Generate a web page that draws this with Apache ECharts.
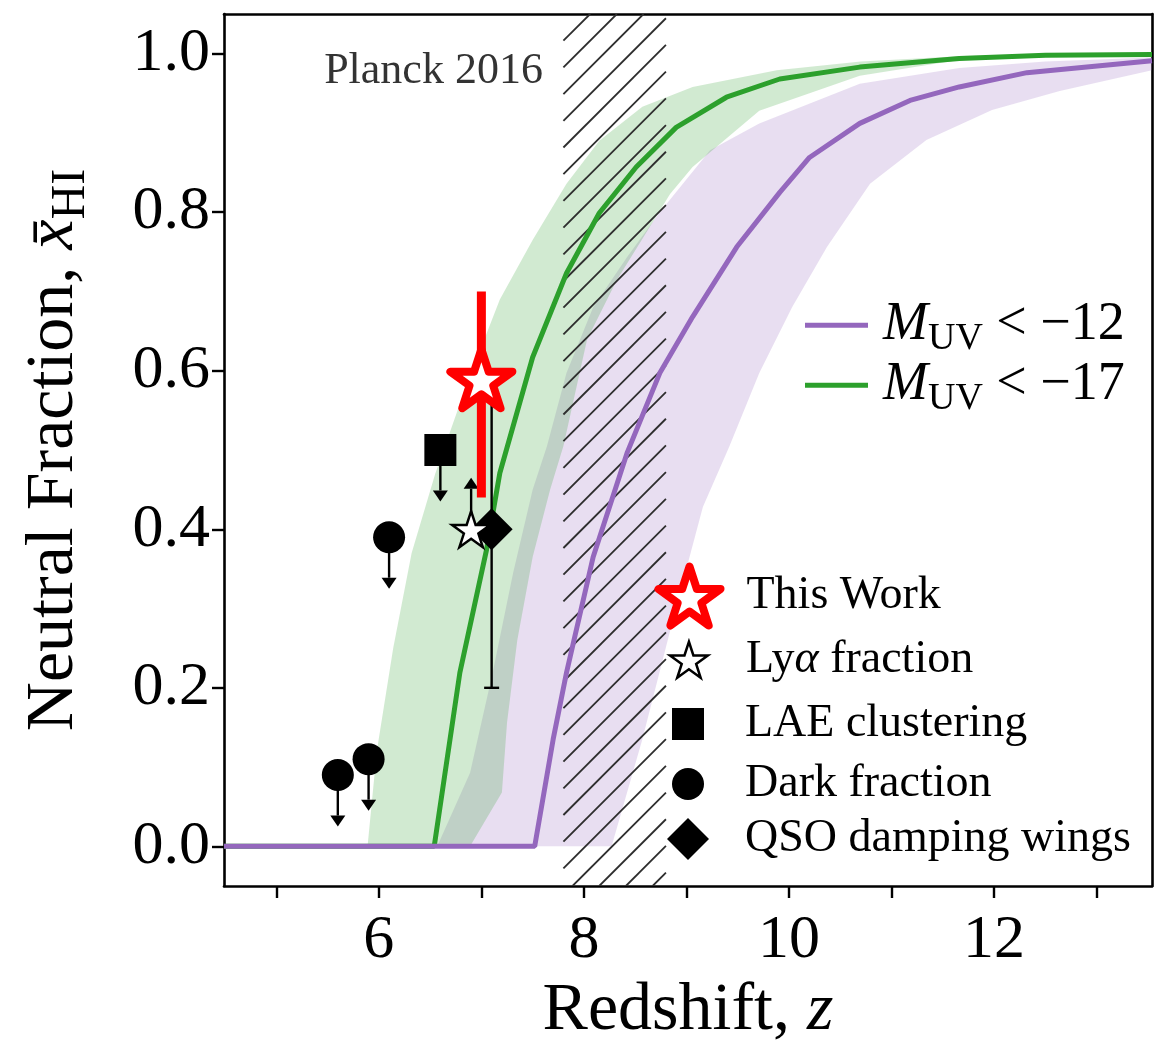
<!DOCTYPE html>
<html>
<head>
<meta charset="utf-8">
<script src="https://cdn.jsdelivr.net/npm/echarts@6/dist/echarts.min.js"></script>
<style>
  html, body { margin: 0; padding: 0; background: #fff; }
  #chart { width: 1167px; height: 1043px; }
</style>
</head>
<body>
<div id="chart"></div>
<script>
const SERIF = '"Liberation Serif", "Times New Roman", serif';

// Axis ranges and ticks
const zRange = [4.49, 13.54];
const xRange = [-0.05, 1.05];
const zTicks = [5, 6, 7, 8, 9, 10, 11, 12, 13];
const zTickLabels = [6, 8, 10, 12];
const xTicks = [0, 0.2, 0.4, 0.6, 0.8, 1.0];

// Median reionization histories
const brightZ = [4.49, 6.54, 6.79, 7.05, 7.18, 7.5, 7.83, 8.15, 8.51, 8.9, 9.39, 9.91, 10.69, 11.66, 12.5, 13.54];
const brightX = [0, 0, 0.219, 0.374, 0.471, 0.617, 0.723, 0.799, 0.857, 0.907, 0.945, 0.968, 0.983, 0.994, 0.998, 0.999];
const faintZ = [4.49, 7.52, 7.70, 7.83, 8.09, 8.42, 8.74, 9.06, 9.49, 9.91, 10.2, 10.69, 11.18, 11.66, 12.32, 13.54];
const faintX = [0, 0, 0.135, 0.219, 0.365, 0.496, 0.597, 0.668, 0.756, 0.825, 0.869, 0.912, 0.941, 0.958, 0.976, 0.991];

// Uncertainty envelopes (upper / lower edges)
const brightHiZ = [5.89, 5.98, 6.14, 6.32, 6.55, 6.85, 7.18, 7.5, 7.83, 8.15, 8.57, 9.06, 9.88, 10.7, 11.7, 13.54];
const brightHiX = [0, 0.12, 0.25, 0.37, 0.47, 0.58, 0.69, 0.765, 0.836, 0.89, 0.933, 0.958, 0.979, 0.99, 0.997, 1.0];
const brightLoZ = [6.89, 7.2, 7.25, 7.35, 7.5, 7.67, 7.8, 8.03, 8.32, 8.64, 8.84, 9.06, 9.71, 10.69, 11.7, 13.54];
const brightLoX = [0, 0.068, 0.156, 0.26, 0.365, 0.45, 0.505, 0.639, 0.714, 0.781, 0.823, 0.857, 0.928, 0.972, 0.993, 0.999];
const faintHiZ = [6.57, 6.89, 7.11, 7.31, 7.5, 7.64, 7.83, 8.09, 8.42, 8.74, 9.23, 9.71, 10.69, 11.66, 12.5, 13.54];
const faintHiX = [0, 0.093, 0.219, 0.345, 0.45, 0.505, 0.597, 0.68, 0.743, 0.80, 0.878, 0.912, 0.962, 0.982, 0.99, 0.995];
const faintLoZ = [8.27, 8.57, 8.9, 9.16, 9.42, 9.71, 10.03, 10.37, 10.79, 11.34, 11.98, 12.64, 13.54];
const faintLoX = [0, 0.135, 0.302, 0.428, 0.505, 0.597, 0.68, 0.756, 0.836, 0.891, 0.929, 0.953, 0.979];

// Planck 2016 redshift interval and its label
const planckZ = [7.8, 8.8];
const planckLabelAt = [7.6, 0.977];

// Observational constraints
const thisWorkZ = [7.0], thisWorkX = [0.59], thisWorkErrLo = [0.15], thisWorkErrHi = [0.11];
const lyaZ = [6.9], lyaX = [0.40];
const laeZ = [6.6], laeX = [0.50];
const darkZ = [5.6, 5.9, 6.1], darkX = [0.09, 0.11, 0.39];
const qsoZ = [7.1], qsoX = [0.40], qsoErrLo = [0.20], qsoErrHi = [0.19];
const limitLen = 0.065;

const zip = (a, b) => a.map((v, i) => [v, b[i]]);

function starPath() {
  const pts = [];
  for (let k = 0; k < 10; k++) {
    const ang = (-90 + 36 * k) * Math.PI / 180;
    const rad = k % 2 === 0 ? 50 : 50 * 0.381966;
    pts.push((50 + rad * Math.cos(ang)).toFixed(2) + ',' + (50 + rad * Math.sin(ang)).toFixed(2));
  }
  return 'path://M' + pts.join('L') + 'Z';
}
const STAR = starPath();
const SQUARE = 'path://M0,0L100,0L100,100L0,100Z';
const CIRCLE = 'path://M0,50A50,50,0,1,1,100,50A50,50,0,1,1,0,50Z';
const DIAMOND = 'path://M50,0L100,50L50,100L0,50Z';

function bandSeries(name, hiZ, hiX, loZ, loX, fill, z) {
  return {
    type: 'custom', name, z, silent: true, clip: true,
    data: [[hiZ[0], hiX[0]]],
    renderItem(params, api) {
      const pts = [];
      for (let i = 0; i < hiZ.length; i++) pts.push(api.coord([hiZ[i], hiX[i]]));
      for (let i = loZ.length - 1; i >= 0; i--) pts.push(api.coord([loZ[i], loX[i]]));
      return { type: 'polygon', shape: { points: pts }, style: { fill } };
    }
  };
}

function errorBarSeries(name, zs, xs, lo, hi, color, width, capHalf, z) {
  return {
    type: 'custom', name, z, silent: true, clip: true,
    data: zs.map((v, i) => [v, xs[i], lo[i], hi[i]]),
    renderItem(params, api) {
      const zv = api.value(0), xv = api.value(1);
      const top = api.coord([zv, xv + api.value(3)]);
      const bot = api.coord([zv, xv - api.value(2)]);
      const st = { stroke: color, lineWidth: width };
      const children = [{ type: 'line', shape: { x1: top[0], y1: top[1], x2: bot[0], y2: bot[1] }, style: st }];
      if (capHalf > 0) {
        children.push({ type: 'line', shape: { x1: top[0] - capHalf, y1: top[1], x2: top[0] + capHalf, y2: top[1] }, style: st });
        children.push({ type: 'line', shape: { x1: bot[0] - capHalf, y1: bot[1], x2: bot[0] + capHalf, y2: bot[1] }, style: st });
      }
      return { type: 'group', children };
    }
  };
}

// dir = +1 for a lower limit (arrow up), -1 for an upper limit (arrow down)
function limitSeries(name, zs, xs, dir, z) {
  return {
    type: 'custom', name, z, silent: true, clip: true,
    data: zip(zs, xs),
    renderItem(params, api) {
      const zv = api.value(0), xv = api.value(1);
      const p0 = api.coord([zv, xv]);
      const p1 = api.coord([zv, xv + dir * limitLen]);
      const headLen = 11, headHalf = 7.5;
      const base = p1[1] + (dir > 0 ? headLen : -headLen);
      return {
        type: 'group',
        children: [
          { type: 'line', shape: { x1: p0[0], y1: p0[1], x2: p1[0], y2: base }, style: { stroke: '#000', lineWidth: 2.4 } },
          { type: 'polygon', shape: { points: [[p1[0], p1[1]], [p1[0] - headHalf, base], [p1[0] + headHalf, base]] }, style: { fill: '#000' } }
        ]
      };
    }
  };
}

const hatchSeries = {
  type: 'custom', name: 'Planck 2016', z: 3, silent: true, clip: true,
  data: [[planckZ[0], planckZ[1]]],
  renderItem(params, api) {
    const tl = api.coord([api.value(0), xRange[1]]);
    const br = api.coord([api.value(1), xRange[0]]);
    const x0 = tl[0], y0 = tl[1], x1 = br[0], y1 = br[1];
    const step = 26.7;
    const children = [];
    for (let c = x0 + y0; c <= x1 + y1; c += step) {
      const xa = Math.max(x0, c - y1), xb = Math.min(x1, c - y0);
      if (xb > xa) {
        children.push({ type: 'line', shape: { x1: xa, y1: c - xa, x2: xb, y2: c - xb },
          style: { stroke: '#2e2e2e', lineWidth: 1.8 } });
      }
    }
    const tp = api.coord(planckLabelAt);
    children.push({ type: 'text', x: tp[0], y: tp[1],
      style: { text: 'Planck 2016', fill: '#333', fontSize: 44, fontFamily: SERIF, align: 'right', verticalAlign: 'middle' } });
    return { type: 'group', children };
  }
};

const lineLegendRich = {
  m: { fontFamily: SERIF, fontSize: 54, fontStyle: 'italic', color: '#000', lineHeight: 60, padding: [0, 0, 0, 10] },
  s: { fontFamily: SERIF, fontSize: 38, color: '#000', lineHeight: 60, padding: [27, 0, 0, 0] },
  t: { fontFamily: SERIF, fontSize: 54, color: '#000', lineHeight: 60 }
};
function lineLegend(name, top) {
  return {
    data: [name], left: 805, top, padding: 0, itemGap: 0, icon: 'rect',
    itemWidth: 63, itemHeight: 5, selectedMode: false,
    itemStyle: { borderWidth: 0 },
    formatter: n => {
      const rest = n.replace('M_UV', '');
      return '{m|M}{s|UV}{t|' + rest + '}';
    },
    textStyle: { rich: lineLegendRich }
  };
}

// Marker legend rows: icon centred on a common column, label text to its right
const legendIconCenter = 688;
function markerLegend(name, centerY, size, itemStyle, formatter) {
  const bw = itemStyle.borderWidth || 0;
  const lg = {
    data: [name],
    left: legendIconCenter - size / 2 - bw / 2,
    top: centerY - size / 2 - bw / 2,
    padding: 0, itemGap: 0,
    itemWidth: 104, itemHeight: size, selectedMode: false, symbolKeepAspect: true,
    itemStyle,
    textStyle: { fontFamily: SERIF, fontSize: 46, color: '#000', lineHeight: size,
      rich: {
        t: { fontFamily: SERIF, fontSize: 46, color: '#000', lineHeight: size },
        a: { fontFamily: SERIF, fontSize: 46, fontStyle: 'italic', color: '#000', lineHeight: size }
      } }
  };
  if (formatter) lg.formatter = formatter;
  return lg;
}

const chart = echarts.init(document.getElementById('chart'), null, { renderer: 'canvas' });

const option = {
  animation: false,
  backgroundColor: '#fff',
  textStyle: { fontFamily: SERIF },
  grid: { left: 224, top: 14, width: 928, height: 872, outerBoundsMode: 'none', containLabel: false },
  xAxis: [
    {
      type: 'value', min: zRange[0], max: zRange[1],
      name: '{r|Redshift, }{i|z}', nameLocation: 'middle', nameGap: 91,
      nameTextStyle: { rich: {
        r: { fontFamily: SERIF, fontSize: 68, color: '#000' },
        i: { fontFamily: SERIF, fontSize: 68, fontStyle: 'italic', color: '#000' }
      } },
      axisLine: { show: true, onZero: false, lineStyle: { color: '#000', width: 2.6 } },
      axisTick: { show: true, inside: false, length: 12, customValues: zTicks, lineStyle: { color: '#000', width: 2.4 } },
      axisLabel: { show: true, customValues: zTickLabels, margin: 24, fontFamily: SERIF, fontSize: 62, color: '#000',
        formatter: v => String(v) },
      splitLine: { show: false }
    },
    {
      type: 'value', min: zRange[0], max: zRange[1], position: 'top',
      axisLine: { show: true, onZero: false, lineStyle: { color: '#000', width: 2.6 } },
      axisTick: { show: false }, axisLabel: { show: false }, splitLine: { show: false }
    }
  ],
  yAxis: [
    {
      type: 'value', min: xRange[0], max: xRange[1],
      name: '{n|Neutral Fraction, }{x|x\u0304}{s|HI}', nameLocation: 'middle', nameRotate: 90, nameGap: 134,
      nameTextStyle: { rich: {
        n: { fontFamily: SERIF, fontSize: 68, color: '#000', lineHeight: 72 },
        x: { fontFamily: SERIF, fontSize: 68, fontStyle: 'italic', color: '#000', lineHeight: 72 },
        s: { fontFamily: SERIF, fontSize: 48, color: '#000', lineHeight: 72, padding: [35, 0, 0, 0] }
      } },
      axisLine: { show: true, onZero: false, lineStyle: { color: '#000', width: 2.6 } },
      axisTick: { show: true, inside: false, length: 12, customValues: xTicks, lineStyle: { color: '#000', width: 2.4 } },
      axisLabel: { show: true, customValues: xTicks, margin: 14, fontFamily: SERIF, fontSize: 62, color: '#000',
        formatter: v => Number(v).toFixed(1) },
      splitLine: { show: false }
    },
    {
      type: 'value', min: xRange[0], max: xRange[1], position: 'right',
      axisLine: { show: true, onZero: false, lineStyle: { color: '#000', width: 2.6 } },
      axisTick: { show: false }, axisLabel: { show: false }, splitLine: { show: false }
    }
  ],
  legend: [
    lineLegend('M_UV < \u221212', 292.7),
    lineLegend('M_UV < \u221217', 352.7),
    markerLegend('This Work', 596, 59, { color: '#fff', borderColor: '#ff0000', borderWidth: 8, borderJoin: 'round', opacity: 1 }),
    markerLegend('Ly\u03b1 fraction', 656, 36, { color: '#fff', borderColor: '#000', borderWidth: 2.5, opacity: 1 },
      () => '{t|Ly}{a|\u03b1}{t| fraction}'),
    markerLegend('LAE clustering', 717, 32, { color: '#000', borderWidth: 0, opacity: 1 }),
    markerLegend('Dark fraction', 777, 32, { color: '#000', borderWidth: 0, opacity: 1 }),
    markerLegend('QSO damping wings', 837, 42, { color: '#000', borderWidth: 0, opacity: 1 })
  ],
  series: [
    bandSeries('faint envelope', faintHiZ, faintHiX, faintLoZ, faintLoX, 'rgba(148,103,189,0.22)', 1),
    bandSeries('bright envelope', brightHiZ, brightHiX, brightLoZ, brightLoX, 'rgba(44,160,44,0.22)', 2),
    hatchSeries,
    {
      type: 'line', name: 'M_UV < \u221217', data: zip(brightZ, brightX), z: 4, silent: true,
      color: '#2ca02c', symbol: 'none', showSymbol: false, clip: true,
      lineStyle: { color: '#2ca02c', width: 5 }, itemStyle: { color: '#2ca02c' }
    },
    {
      type: 'line', name: 'M_UV < \u221212', data: zip(faintZ, faintX), z: 5, silent: true,
      color: '#9467bd', symbol: 'none', showSymbol: false, clip: true,
      lineStyle: { color: '#9467bd', width: 5 }, itemStyle: { color: '#9467bd' }
    },
    errorBarSeries('QSO error', qsoZ, qsoX, qsoErrLo, qsoErrHi, '#000', 2.4, 7.5, 6),
    limitSeries('Lya limit', lyaZ, lyaX, 1, 6),
    limitSeries('LAE limit', laeZ, laeX, -1, 6),
    limitSeries('Dark limit', darkZ, darkX, -1, 6),
    {
      type: 'scatter', name: 'QSO damping wings', data: zip(qsoZ, qsoX), z: 7, silent: true,
      symbol: DIAMOND, symbolSize: 42, symbolKeepAspect: true, itemStyle: { color: '#000', opacity: 1 }
    },
    {
      type: 'scatter', name: 'LAE clustering', data: zip(laeZ, laeX), z: 7, silent: true,
      symbol: SQUARE, symbolSize: 32, symbolKeepAspect: true, itemStyle: { color: '#000', opacity: 1 }
    },
    {
      type: 'scatter', name: 'Dark fraction', data: zip(darkZ, darkX), z: 7, silent: true,
      symbol: CIRCLE, symbolSize: 32, symbolKeepAspect: true, itemStyle: { color: '#000', opacity: 1 }
    },
    {
      type: 'scatter', name: 'Ly\u03b1 fraction', data: zip(lyaZ, lyaX), z: 8, silent: true,
      symbol: STAR, symbolSize: 38, symbolKeepAspect: true,
      itemStyle: { color: '#fff', borderColor: '#000', borderWidth: 2.5, opacity: 1 }
    },
    errorBarSeries('This Work error', thisWorkZ, thisWorkX, thisWorkErrLo, thisWorkErrHi, '#ff0000', 9, 0, 9),
    {
      type: 'scatter', name: 'This Work', data: zip(thisWorkZ, thisWorkX), z: 10, silent: true,
      symbol: STAR, symbolSize: 62, symbolKeepAspect: true,
      itemStyle: { color: '#fff', borderColor: '#ff0000', borderWidth: 8, borderJoin: 'round', opacity: 1 }
    }
  ]
};

chart.setOption(option);
</script>
</body>
</html>
